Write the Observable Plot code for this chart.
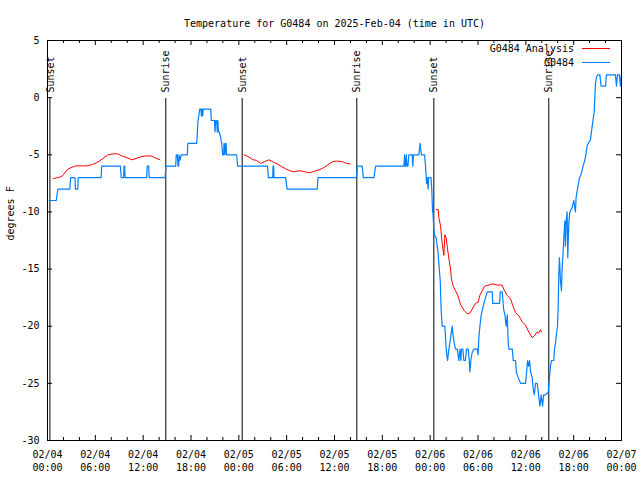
<!DOCTYPE html>
<html><head><meta charset="utf-8">
<script src="https://cdn.jsdelivr.net/npm/d3@7"></script>
<script src="https://cdn.jsdelivr.net/npm/@observablehq/plot@0.6"></script>
<style>body{margin:0;background:#fff}</style>
</head><body><div id="chart"></div>
<script>
const title = "Temperature for G0484 on 2025-Feb-04 (time in UTC)";
const yLabel = "degrees F";
const seriesNames = ["G0484 Analysis", "G0484"];
const seriesColors = ["#ff0000", "#0080ff"];

// x in hours since 2025-02-04 00:00 UTC
const xTicks = [0, 6, 12, 18, 24, 30, 36, 42, 48, 54, 60, 66, 72];
const xTickLabels = ["02/04\n00:00","02/04\n06:00","02/04\n12:00","02/04\n18:00",
  "02/05\n00:00","02/05\n06:00","02/05\n12:00","02/05\n18:00",
  "02/06\n00:00","02/06\n06:00","02/06\n12:00","02/06\n18:00","02/07\n00:00"];
const xMinorTicks = [2,4,8,10,14,16,20,22,26,28,32,34,38,40,44,46,50,52,56,58,62,64,68,70];
const yTicks = [-30, -25, -20, -15, -10, -5, 0, 5];
const yTickLabels = ["-30", "-25", "-20", "-15", "-10", "-5", "0", "5"];

const eventHours = [0.3, 14.84, 24.42, 38.8, 48.46, 62.88];
const eventLabels = ["Sunset", "Sunrise", "Sunset", "Sunrise", "Sunset", "Sunrise"];

// G0484 observations [hour, degF]
const obsNight1 = [[0.2,-9],[1.1,-9],[1.3,-8],[2.8,-8],[2.9,-7],[3.45,-7],[3.5,-8],[3.8,-8],[3.85,-7],
  [6.72,-7],[6.8,-6],[9.15,-6],[9.25,-7],[9.55,-7],[9.6,-6],[9.68,-6],[9.72,-7],[12.45,-7],[12.5,-6],
  [12.7,-6],[12.75,-7],[14.75,-7]];
const obsDay1 = [[14.85,-6],[16.08,-6],[16.15,-5],[16.29,-5],[16.37,-6],[16.45,-6],[16.5,-5],[16.6,-5.5],
  [16.79,-5],[17.54,-5],[17.6,-4],[18.71,-4],[18.8,-3],[18.88,-2],[19.0,-1.5],[19.09,-1],[19.25,-1],
  [19.3,-1.6],[19.37,-1],[19.43,-1],[19.47,-1.6],[19.53,-1],[20.47,-1],[20.55,-2],[20.95,-2],[21.01,-3],
  [21.1,-2],[21.22,-2],[21.3,-3],[21.38,-2],[21.43,-3],[21.55,-3],[21.72,-3.5],[21.85,-4],[21.97,-5],
  [22.1,-5],[22.14,-4],[22.27,-5],[22.33,-4],[22.39,-4],[22.47,-5],[23.73,-5],[23.85,-6]];
const obsNight2 = [[24.4,-6],[27.6,-6],[27.7,-7],[28.25,-7],[28.29,-6],[28.33,-7],[28.37,-6],[28.41,-7],
  [29.87,-7],[30.05,-8],[33.84,-8],[33.92,-7],[38.77,-7]];
const obsDay2 = [[38.86,-6],[39.48,-6],[39.61,-7],[40.95,-7],[41.15,-6],[44.71,-6],[44.79,-5],[44.85,-6],
  [44.92,-6],[45.0,-5],[45.1,-6],[45.21,-6],[45.33,-5],[45.75,-5],[45.82,-6],[45.9,-5],[46.59,-5],
  [46.65,-4.5],[46.75,-4],[46.8,-4.5],[46.92,-5],[47.3,-5],[47.42,-6],[47.55,-7.5],[47.62,-7],
  [47.75,-8],[47.8,-7],[48.1,-7],[48.2,-8],[48.3,-10]];
const obsNight3 = [[48.34,-10],[48.46,-11.5],[48.55,-12],[48.76,-12.3],[48.88,-13],[48.97,-13.4],
  [49.09,-14.5],[49.26,-16],[49.38,-18.6],[49.51,-20],[49.84,-20],[49.93,-21],[50.01,-22],[50.18,-23],
  [50.35,-22],[50.56,-21],[50.77,-20],[50.9,-21],[51.02,-21.5],[51.19,-22],[51.4,-22],[51.6,-23],
  [51.73,-22],[51.85,-23],[51.93,-22],[52.1,-22],[52.23,-23],[52.42,-23],[52.56,-22],[52.77,-22],
  [52.9,-23],[52.98,-24],[53.1,-23],[53.27,-22.3],[53.49,-22],[53.9,-22],[54.0,-22.5],[54.11,-21],
  [54.24,-20],[54.4,-19],[54.57,-18.5],[54.74,-18],[54.95,-17.5],[55.16,-17],[55.79,-17],[55.85,-18],
  [56.71,-18],[56.79,-17],[57.04,-17],[57.21,-18.5],[57.37,-19],[57.54,-20],[57.67,-19],[57.79,-21.5],
  [57.88,-22],[58.3,-22],[58.42,-23],[58.71,-23],[58.8,-24],[59.05,-24.5],[59.34,-25],[59.97,-25],
  [60.1,-24],[60.22,-23],[60.35,-23.5],[60.47,-23],[60.6,-24],[60.8,-24.5],[60.93,-25.5],[61.06,-26],
  [61.22,-25],[61.43,-25],[61.6,-26],[61.77,-27],[61.93,-26],[62.1,-27],[62.23,-26],[62.48,-26],
  [62.6,-25.9],[62.81,-25.8]];
const obsDay3 = [[62.97,-24.5],[63.09,-23.5],[63.22,-23],[63.51,-23],[63.59,-22],[63.72,-21.5],
  [63.84,-20.7],[63.97,-20],[64.05,-18.5],[64.14,-15.4],[64.22,-14],[64.34,-16],[64.47,-16.9],
  [64.55,-15],[64.64,-14],[64.76,-12.4],[64.89,-10.8],[64.97,-13],[65.05,-10.8],[65.18,-10],
  [65.26,-14],[65.39,-11],[65.51,-10],[65.81,-9.6],[66.02,-9],[66.14,-9.7],[66.22,-10],[66.31,-8.7],
  [66.56,-7.7],[66.73,-7],[66.94,-6.7],[67.14,-6.1],[67.35,-5.6],[67.48,-5.2],[67.69,-4.2],[67.9,-3.9],
  [68.11,-3.7],[68.23,-3],[68.4,-2.1],[68.57,-1.3],[68.65,0],[68.73,1.2],[68.86,1.8],[69.02,2],
  [69.28,2],[69.44,1],[70.0,1],[70.11,2],[71.24,2],[71.37,1],[71.49,2],[71.74,2],[71.87,1],[71.99,2],[72.0,2]];

// G0484 Analysis [hour, degF]
const anaNight1 = [[0.7,-7.1],[1.24,-7.0],[1.78,-6.9],[2.07,-6.67],[2.49,-6.29],[2.9,-6.14],[3.55,-5.97],
  [5.0,-5.97],[5.64,-5.85],[6.27,-5.65],[6.9,-5.35],[7.52,-5.03],[8.15,-4.92],[8.8,-4.92],[9.4,-5.12],
  [10.0,-5.27],[10.6,-5.44],[11.1,-5.32],[11.7,-5.18],[12.37,-5.1],[13.0,-5.1],[13.6,-5.3],[14.1,-5.44]];
const anaNight2 = [[24.65,-5.0],[25.15,-5.15],[25.7,-5.41],[26.24,-5.5],[26.74,-5.76],[27.24,-5.59],
  [27.78,-5.44],[28.33,-5.65],[28.83,-5.8],[29.33,-6.02],[29.87,-6.23],[30.41,-6.4],[30.91,-6.49],
  [31.54,-6.4],[32.17,-6.46],[32.8,-6.58],[33.42,-6.46],[34.17,-6.29],[34.76,-6.08],[35.3,-5.8],
  [35.73,-5.62],[36.35,-5.55],[36.98,-5.6],[37.52,-5.76],[37.94,-5.8]];
const anaNight3 = [[48.76,-9.8],[49.01,-9.8],[49.09,-10.5],[49.3,-11.2],[49.51,-12.8],[49.72,-13.8],
  [49.84,-12],[50.01,-12.3],[50.14,-13],[50.35,-14.1],[50.55,-15],[50.68,-15.9],[50.85,-16.4],
  [51.18,-16.9],[51.47,-17.3],[51.72,-17.9],[51.89,-18.2],[52.23,-18.6],[52.64,-18.9],[52.94,-18.9],
  [53.27,-18.5],[53.69,-18],[54.02,-17.9],[54.23,-17.3],[54.52,-16.9],[54.82,-16.5],[55.36,-16.4],
  [55.78,-16.3],[56.4,-16.4],[57.03,-16.4],[57.32,-16.9],[57.66,-17.3],[58.08,-17.6],[58.37,-18.2],
  [58.7,-18.8],[59.12,-19.1],[59.54,-19.6],[59.96,-19.9],[60.37,-20.5],[60.79,-21],[61.13,-20.8],
  [61.42,-20.5],[61.63,-20.6],[61.84,-20.3],[61.96,-20.5]];

const FONT = "DejaVu Sans Mono";
const M = {top: 40, right: 19, bottom: 40, left: 47};
const W = 640, H = 480;
const frameH = H - M.top - M.bottom, frameW = W - M.left - M.right;

const obs = [...obsNight1, ...obsDay1, ...obsNight2, ...obsDay2, ...obsNight3, ...obsDay3]
  .map(([h, t]) => ({h, t}));
const ana = [anaNight1, anaNight2, anaNight3]
  .flatMap((seg, k) => seg.map(([h, t]) => ({h, t, seg: k})));

const chart = Plot.plot({
  width: W, height: H,
  marginTop: M.top, marginRight: M.right, marginBottom: M.bottom, marginLeft: M.left,
  style: {fontFamily: FONT, fontSize: "10px", background: "white", color: "black"},
  x: {type: "linear", domain: [0, 72]},
  y: {domain: [-30, 5]},
  marks: [
    Plot.ruleX(eventHours, {x: d => d, insetTop: 58, stroke: "black", strokeWidth: 1}),
    Plot.text(eventHours, {x: d => d, text: (d, i) => eventLabels[i], frameAnchor: "top", dy: 52, dx: -3.5,
      rotate: -90, textAnchor: "start", fontSize: 10, fill: "black"}),
    Plot.line(ana, {x: "h", y: "t", z: "seg", stroke: seriesColors[0], strokeWidth: 1}),
    Plot.line(obs, {x: "h", y: "t", stroke: seriesColors[1], strokeWidth: 1.2}),
    Plot.frame({stroke: "black"}),
    Plot.tickX(xTicks, {x: d => d, insetTop: frameH - 5, stroke: "black"}),
    Plot.tickX(xTicks, {x: d => d, insetBottom: frameH - 5, stroke: "black"}),
    Plot.tickX(xMinorTicks, {x: d => d, insetTop: frameH - 3, stroke: "black"}),
    Plot.tickX(xMinorTicks, {x: d => d, insetBottom: frameH - 3, stroke: "black"}),
    Plot.tickY(yTicks, {y: d => d, insetRight: frameW - 5, stroke: "black"}),
    Plot.tickY(yTicks, {y: d => d, insetLeft: frameW - 5, stroke: "black"}),
    Plot.axisX({ticks: xTicks, tickSize: 0, tickPadding: 8, lineHeight: 1.3, label: null,
      tickFormat: d => xTickLabels[xTicks.indexOf(d)], fontSize: 10}),
    Plot.axisY({ticks: yTicks, tickSize: 0, tickPadding: 8, label: null,
      tickFormat: d => yTickLabels[yTicks.indexOf(d)], fontSize: 10}),
    Plot.text([title], {text: d => d, frameAnchor: "top", dy: -21, fontSize: 10, fill: "black"}),
    Plot.text([yLabel], {text: d => d, frameAnchor: "left", dx: -37, rotate: -90, fontSize: 10, fill: "black"})
  ]
});
document.getElementById("chart").appendChild(chart);

// legend (top-right inside the frame)
const svg = d3.select(chart);
const right = W - M.right;
const lg = svg.append("g").attr("font-family", FONT).attr("font-size", 10);
seriesNames.forEach((name, i) => {
  const y = M.top + 9 + i * 13.5;
  lg.append("text").attr("x", right - 47).attr("y", y).attr("dy", "0.32em")
    .attr("text-anchor", "end").attr("fill", "black").text(name);
  lg.append("line").attr("x1", right - 39).attr("x2", right - 11)
    .attr("y1", Math.round(y) - 0.5).attr("y2", Math.round(y) - 0.5)
    .attr("stroke", seriesColors[i]).attr("stroke-width", 1);
});
</script>
</body></html>
